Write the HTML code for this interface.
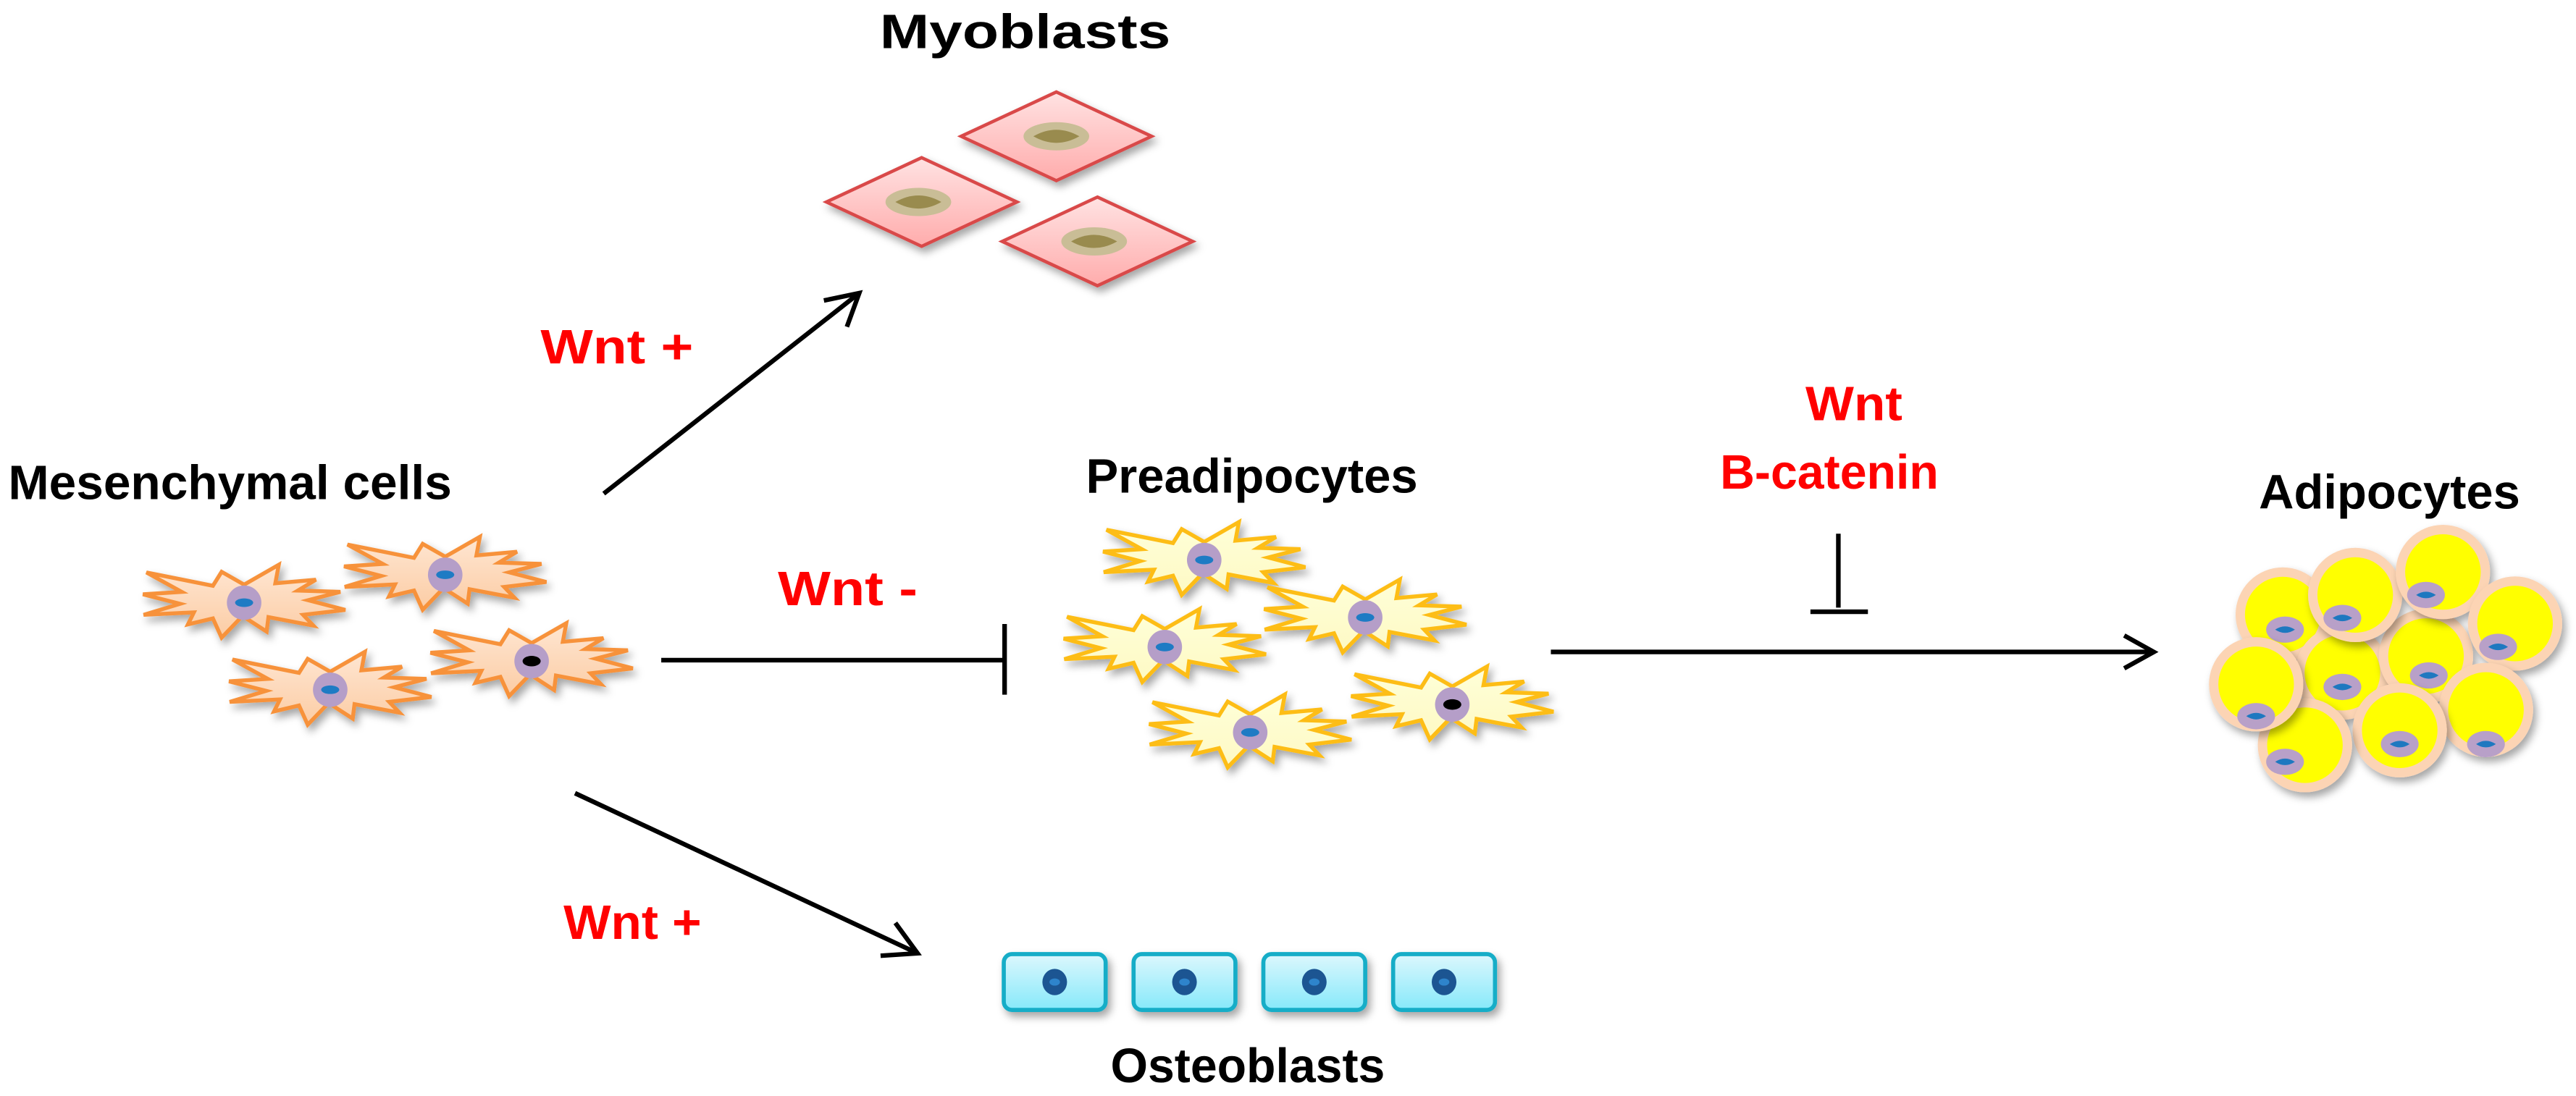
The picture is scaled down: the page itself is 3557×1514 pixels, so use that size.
<!DOCTYPE html>
<html><head><meta charset="utf-8"><style>
html,body{margin:0;padding:0;background:#fff;}
svg{display:block;}
text{font-family:"Liberation Sans",sans-serif;font-weight:bold;}
</style></head><body>
<svg width="3557" height="1514" viewBox="0 0 1568 667.4" xmlns="http://www.w3.org/2000/svg">
<defs>
<filter id="sh" x="-30%" y="-30%" width="160%" height="170%"><feDropShadow dx="2" dy="3" stdDeviation="2.5" flood-color="#000" flood-opacity="0.35"/></filter>
<linearGradient id="gMes" x1="0" y1="0" x2="0" y2="1"><stop offset="0" stop-color="#fee6d2"/><stop offset="1" stop-color="#fccca4"/></linearGradient>
<linearGradient id="gPre" x1="0" y1="0" x2="0" y2="1"><stop offset="0" stop-color="#ffffd8"/><stop offset="1" stop-color="#fdf9c4"/></linearGradient>
<linearGradient id="gMyo" x1="0" y1="0" x2="0" y2="1"><stop offset="0" stop-color="#ffe2e2"/><stop offset="1" stop-color="#ffacac"/></linearGradient>
<linearGradient id="gOst" x1="0" y1="0" x2="0" y2="1"><stop offset="0" stop-color="#dcf7fd"/><stop offset="1" stop-color="#86e9fa"/></linearGradient>
<path id="star" d="M-59.5,-18.4 L-19,-10.3 L-13.7,-18.8 L0,-11 L21.1,-23.1 L19,-11.8 L43.7,-14 L32.7,-7.4 L58.6,-6.6 L39,-1.5 L61.6,4.4 L35.9,7.4 L42.2,14 L14.8,8.8 L13.7,17.6 L-1,8.1 L-13.7,21.3 L-19,9.6 L-34.2,13.2 L-30.6,5.9 L-61.2,7.4 L-39,0.7 L-61.6,-5.1 L-38,-6.6 Z"/>
<path id="dia" d="M0,-27 L58,0 L0,27 L-58,0 Z"/>
<g id="myonuc"><ellipse rx="20" ry="8.6" fill="#c9bd96"/><path d="M-14,0 Q0,-8 14,0 Q0,8 -14,0 Z" fill="#998b4e"/></g>
<g id="nucB"><circle r="10.5" fill="#b59ec8"/><ellipse rx="5.5" ry="2.6" fill="#1e7bc4"/></g>
<g id="nucK"><circle r="10.5" fill="#b59ec8"/><ellipse rx="5.5" ry="3.2" fill="#000"/></g>
<g id="ost"><rect x="-31" y="-17" width="62" height="34" rx="5" fill="url(#gOst)" stroke="#15adc7" stroke-width="2.5"/><ellipse rx="7.5" ry="8" fill="#1a5592"/><ellipse rx="3.2" ry="2.2" fill="#2f84cc"/></g>
<g id="adn"><ellipse rx="11.5" ry="8" fill="#b8a0c8"/><path d="M-6,0 Q0,-4 6,0 Q0,4 -6,0 Z" fill="#1e78c0"/></g>
</defs>

<!-- Labels -->
<text x="535.5" y="29.3" font-size="29.5" fill="#000" textLength="177" lengthAdjust="spacingAndGlyphs">Myoblasts</text>
<text x="5" y="304" font-size="29.5" fill="#000" textLength="270" lengthAdjust="spacingAndGlyphs">Mesenchymal cells</text>
<text x="661" y="300" font-size="29.5" fill="#000" textLength="202" lengthAdjust="spacingAndGlyphs">Preadipocytes</text>
<text x="1375" y="309.7" font-size="29.5" fill="#000" textLength="159" lengthAdjust="spacingAndGlyphs">Adipocytes</text>
<text x="676" y="659" font-size="29.5" fill="#000" textLength="167" lengthAdjust="spacingAndGlyphs">Osteoblasts</text>

<text x="329" y="221.4" font-size="29.5" fill="#ff0000" textLength="93" lengthAdjust="spacingAndGlyphs">Wnt  +</text>
<text x="473.5" y="368.5" font-size="29.5" fill="#ff0000" textLength="85" lengthAdjust="spacingAndGlyphs">Wnt  -</text>
<text x="343" y="571.7" font-size="29.5" fill="#ff0000" textLength="84" lengthAdjust="spacingAndGlyphs">Wnt +</text>
<text x="1099" y="256" font-size="29.5" fill="#ff0000" textLength="59" lengthAdjust="spacingAndGlyphs">Wnt</text>
<text x="1047" y="297.6" font-size="29.5" fill="#ff0000" textLength="133" lengthAdjust="spacingAndGlyphs">B-catenin</text>

<!-- Arrows -->
<g stroke="#000" stroke-width="2.8" fill="none" stroke-linecap="butt">
<line x1="367.5" y1="300.6" x2="523" y2="178.5"/>
<polyline points="501.5,183 523,178.5 515.5,199"/>
<line x1="402.5" y1="402" x2="611.5" y2="402"/>
<line x1="611.5" y1="380" x2="611.5" y2="423"/>
<line x1="350" y1="483" x2="558.5" y2="580.5"/>
<polyline points="545,562 558.5,580.5 536,582"/>
<line x1="944" y1="397" x2="1310" y2="397"/>
<polyline points="1293,387 1311,397 1293,407"/>
<line x1="1119" y1="325" x2="1119" y2="370"/>
<line x1="1102" y1="372.5" x2="1137" y2="372.5"/>
</g>

<!-- Myoblasts -->
<g filter="url(#sh)">
<use href="#dia" x="643" y="83" fill="url(#gMyo)" stroke="#d94848" stroke-width="2"/>
<use href="#dia" x="561" y="123" fill="url(#gMyo)" stroke="#d94848" stroke-width="2"/>
<use href="#dia" x="668" y="147" fill="url(#gMyo)" stroke="#d94848" stroke-width="2"/>
</g>
<use href="#myonuc" x="643" y="83"/>
<use href="#myonuc" x="559" y="123"/>
<use href="#myonuc" x="666" y="147"/>

<!-- Mesenchymal stars -->
<g filter="url(#sh)" fill="url(#gMes)" stroke="#f7923a" stroke-width="2.4" stroke-linejoin="miter">
<use href="#star" x="148.6" y="367"/>
<use href="#star" x="271" y="350"/>
<use href="#star" x="201" y="420"/>
<use href="#star" x="323.6" y="402.6"/>
</g>
<use href="#nucB" x="148.6" y="367"/>
<use href="#nucB" x="271" y="350"/>
<use href="#nucB" x="201" y="420"/>
<use href="#nucK" x="323.6" y="402.6"/>

<!-- Preadipocyte stars -->
<g filter="url(#sh)" fill="url(#gPre)" stroke="#fdbd18" stroke-width="2.4">
<use href="#star" x="733" y="341"/>
<use href="#star" x="831" y="376"/>
<use href="#star" x="709" y="394"/>
<use href="#star" x="884" y="429"/>
<use href="#star" x="761" y="446"/>
</g>
<use href="#nucB" x="733" y="341"/>
<use href="#nucB" x="831" y="376"/>
<use href="#nucB" x="709" y="394"/>
<use href="#nucK" x="884" y="429"/>
<use href="#nucB" x="761" y="446"/>

<!-- Osteoblasts -->
<g filter="url(#sh)">
<use href="#ost" x="642" y="598"/>
<use href="#ost" x="721" y="598"/>
<use href="#ost" x="800" y="598"/>
<use href="#ost" x="879" y="598"/>
</g>

<!-- Adipocytes -->
<g>
<g filter="url(#sh)"><circle cx="1389.5" cy="374.2" r="28.7" fill="#fcd4b4"/><circle cx="1389.5" cy="374.2" r="23" fill="#ffff00"/></g><use href="#adn" x="1390.9" y="383.4"/>
<g filter="url(#sh)"><circle cx="1425.8" cy="409.6" r="28.7" fill="#fcd4b4"/><circle cx="1425.8" cy="409.6" r="23" fill="#ffff00"/></g><use href="#adn" x="1425.8" y="418.3"/>
<g filter="url(#sh)"><circle cx="1476.7" cy="399.5" r="28.7" fill="#fcd4b4"/><circle cx="1476.7" cy="399.5" r="23" fill="#ffff00"/></g><use href="#adn" x="1478.4" y="411.3"/>
<g filter="url(#sh)"><circle cx="1433.6" cy="362.3" r="28.7" fill="#fcd4b4"/><circle cx="1433.6" cy="362.3" r="23" fill="#ffff00"/></g><use href="#adn" x="1425.8" y="376.3"/>
<g filter="url(#sh)"><circle cx="1487" cy="348.3" r="28.7" fill="#fcd4b4"/><circle cx="1487" cy="348.3" r="23" fill="#ffff00"/></g><use href="#adn" x="1476.7" y="362.3"/>
<g filter="url(#sh)"><circle cx="1530.9" cy="379.7" r="28.7" fill="#fcd4b4"/><circle cx="1530.9" cy="379.7" r="23" fill="#ffff00"/></g><use href="#adn" x="1520.6" y="393.9"/>
<g filter="url(#sh)"><circle cx="1513.2" cy="432.3" r="28.7" fill="#fcd4b4"/><circle cx="1513.2" cy="432.3" r="23" fill="#ffff00"/></g><use href="#adn" x="1513.2" y="453.1"/>
<g filter="url(#sh)"><circle cx="1460.7" cy="444.7" r="28.7" fill="#fcd4b4"/><circle cx="1460.7" cy="444.7" r="23" fill="#ffff00"/></g><use href="#adn" x="1460.7" y="453.1"/>
<g filter="url(#sh)"><circle cx="1403" cy="453.8" r="28.7" fill="#fcd4b4"/><circle cx="1403" cy="453.8" r="23" fill="#ffff00"/></g><use href="#adn" x="1390.9" y="463.9"/>
<g filter="url(#sh)"><circle cx="1373.3" cy="416.7" r="28.7" fill="#fcd4b4"/><circle cx="1373.3" cy="416.7" r="23" fill="#ffff00"/></g><use href="#adn" x="1373.3" y="436.1"/>
</g>
</svg>
</body></html>
